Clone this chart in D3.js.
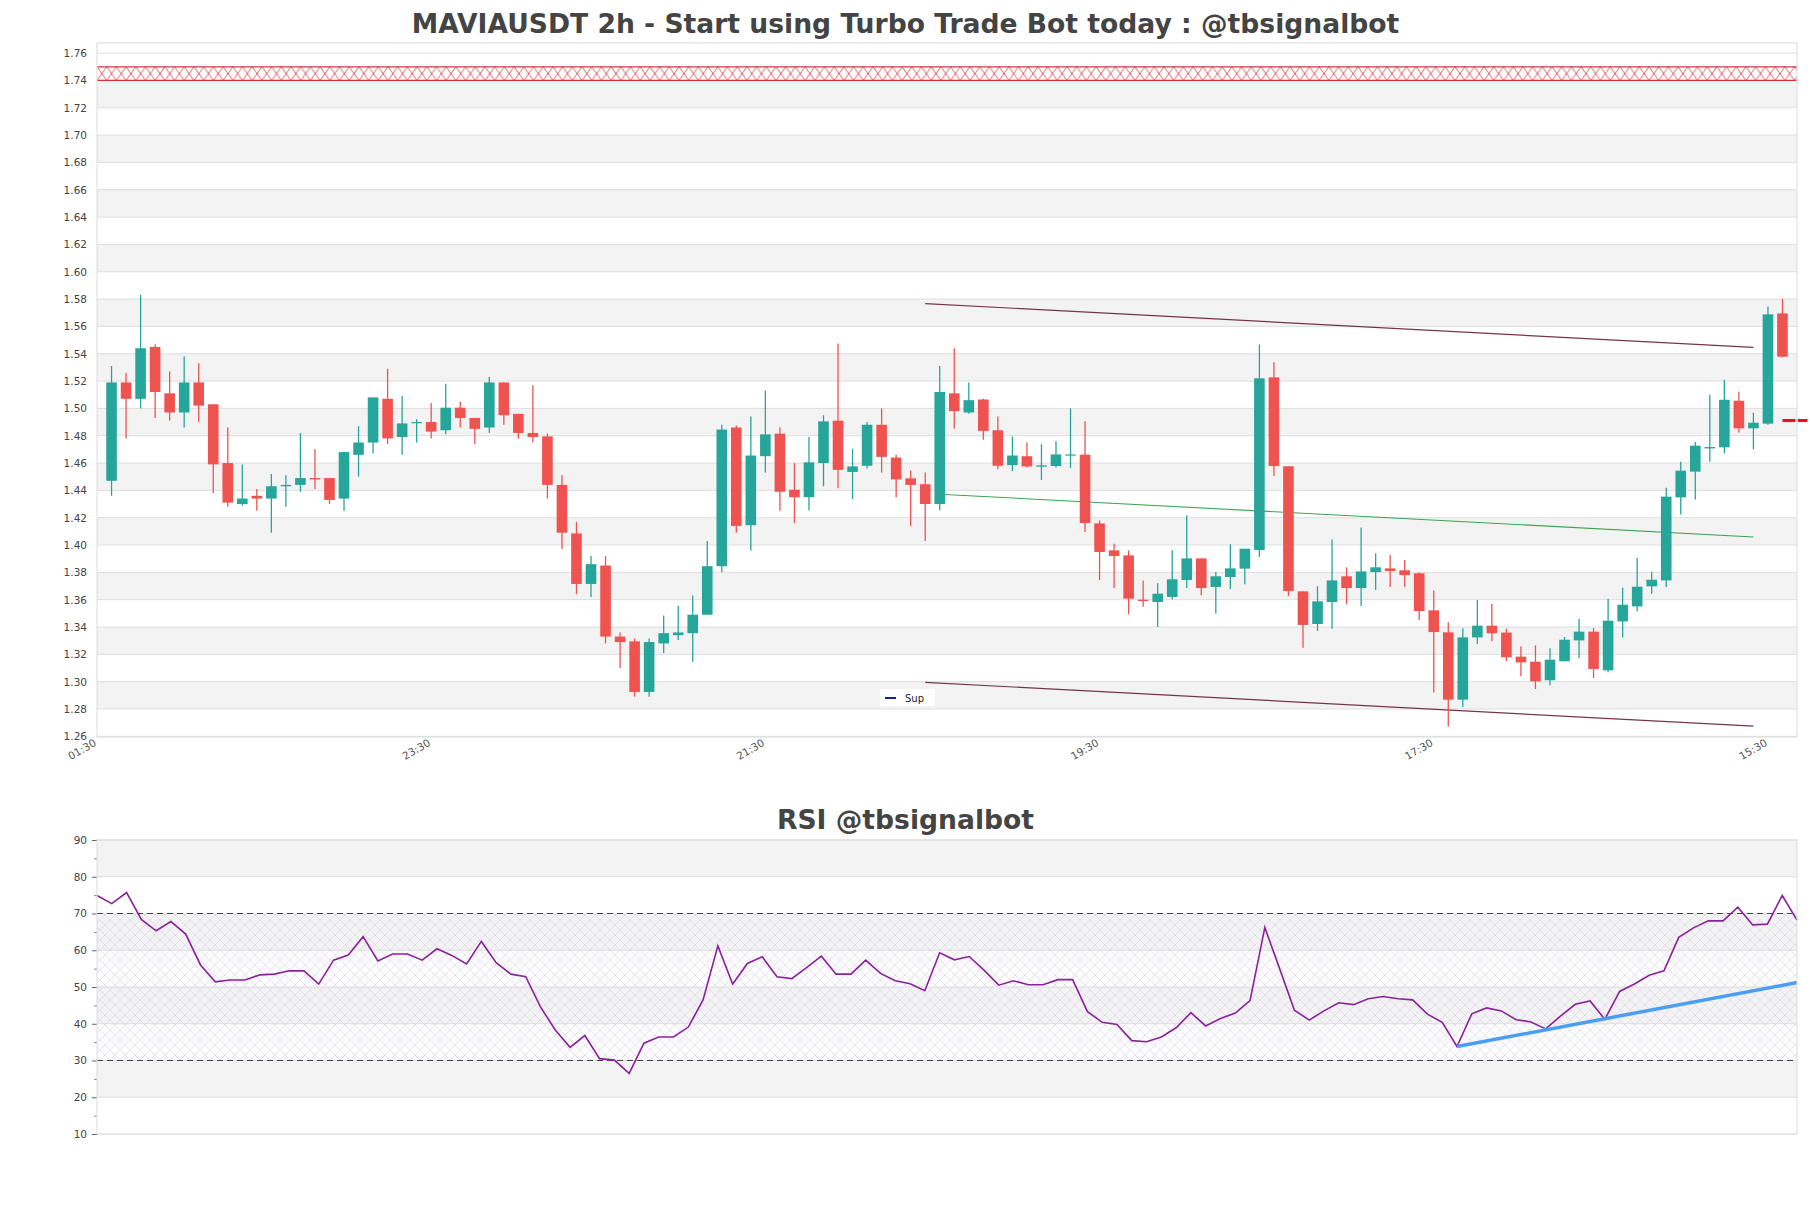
<!DOCTYPE html>
<html>
<head>
<meta charset="utf-8">
<script src="https://cdn.jsdelivr.net/npm/d3@7"></script>
<style>
  body { margin: 0; background: #fff; }
  text { font-family: "DejaVu Sans", sans-serif; }
</style>
</head>
<body>
<svg id="chart"></svg>
<script>
const W = 1811, H = 1208;

// ---- data ----
const tickIdx = [0, 23, 46, 69, 92, 115];
const tickLabels = ["01:30", "23:30", "21:30", "19:30", "17:30", "15:30"];

const open = [1.447,1.519,1.507,1.545,1.511,1.497,1.519,1.503,1.460,1.430,1.436,1.434,1.443,1.444,1.449,1.449,1.434,1.466,1.475,1.507,
  1.479,1.4895,1.490,1.484,1.5005,1.493,1.486,1.519,1.496,1.482,1.4795,1.444,1.4085,1.3715,1.385,1.333,1.3295,1.2925,1.328,1.334,
  1.3355,1.349,1.3845,1.486,1.4145,1.465,1.4815,1.4405,1.435,1.460,1.491,1.4535,1.458,1.488,1.464,1.4488,1.4445,1.430,1.511,1.497,
  1.5065,1.484,1.4585,1.465,1.4573,1.4578,1.4656,1.4661,1.4158,1.3961,1.3924,1.360,1.3583,1.362,1.3744,1.3902,1.3693,1.3766,1.3827,1.3963,
  1.5227,1.4576,1.3661,1.3422,1.3583,1.3771,1.3685,1.3802,1.3829,1.3815,1.3793,1.3522,1.3361,1.2868,1.3324,1.341,1.3359,1.3183,1.3146,1.301,
  1.3149,1.3302,1.3366,1.3083,1.3441,1.3551,1.3698,1.3741,1.4349,1.4537,1.4707,1.4715,1.5056,1.4854,1.4888,1.5695];
const high = [1.531,1.526,1.583,1.547,1.527,1.538,1.533,1.503,1.486,1.459,1.441,1.452,1.451,1.482,1.470,1.449,1.468,1.487,1.508,1.529,
  1.509,1.492,1.504,1.518,1.505,1.493,1.523,1.519,1.496,1.517,1.4815,1.451,1.417,1.392,1.392,1.336,1.3315,1.3315,1.3485,1.3555,
  1.363,1.403,1.488,1.4875,1.494,1.513,1.486,1.460,1.479,1.495,1.5475,1.4705,1.490,1.500,1.466,1.4546,1.453,1.531,1.544,1.519,
  1.507,1.494,1.4795,1.475,1.4737,1.476,1.500,1.4905,1.418,1.401,1.3961,1.3741,1.372,1.3961,1.4217,1.3902,1.3802,1.4005,1.3973,1.5468,
  1.5337,1.4576,1.3661,1.3698,1.4041,1.3837,1.4129,1.3939,1.3929,1.389,1.3798,1.3668,1.3434,1.339,1.3598,1.3571,1.3388,1.3259,1.3266,1.3244,
  1.3327,1.3461,1.3393,1.3607,1.3688,1.3907,1.3805,1.442,1.461,1.4754,1.51,1.521,1.5122,1.4968,1.5746,1.5802];
const low = [1.436,1.478,1.500,1.493,1.491,1.486,1.490,1.438,1.428,1.429,1.425,1.409,1.428,1.439,1.441,1.430,1.425,1.450,1.467,1.474,
  1.466,1.475,1.478,1.481,1.486,1.474,1.482,1.488,1.478,1.475,1.434,1.397,1.364,1.362,1.328,1.310,1.289,1.289,1.321,1.3305,
  1.3145,1.349,1.380,1.409,1.396,1.453,1.425,1.416,1.4255,1.443,1.4415,1.4335,1.456,1.453,1.435,1.414,1.403,1.4255,1.485,1.496,
  1.477,1.4555,1.454,1.4568,1.4476,1.4568,1.4566,1.4095,1.3744,1.3685,1.3493,1.3549,1.340,1.3602,1.3685,1.3632,1.3498,1.3678,1.3712,1.3912,
  1.4505,1.3627,1.3249,1.3371,1.3388,1.3566,1.3554,1.3671,1.3693,1.3693,1.3451,1.292,1.2671,1.2815,1.3276,1.3295,1.3149,1.3039,1.2946,1.2973,
  1.3149,1.3171,1.3027,1.3068,1.3324,1.3515,1.3644,1.3693,1.4224,1.4334,1.461,1.4671,1.4822,1.47,1.488,1.5373];
const close = [1.519,1.507,1.544,1.512,1.497,1.519,1.502,1.459,1.431,1.434,1.434,1.443,1.444,1.449,1.448,1.433,1.468,1.475,1.508,1.478,
  1.489,1.490,1.483,1.5005,1.493,1.485,1.519,1.495,1.482,1.479,1.444,1.409,1.3715,1.386,1.333,1.329,1.2925,1.329,1.3355,1.336,
  1.349,1.3845,1.4845,1.414,1.4655,1.481,1.439,1.435,1.4605,1.4905,1.455,1.4575,1.488,1.4645,1.448,1.444,1.430,1.512,1.498,1.506,
  1.4835,1.458,1.4655,1.4575,1.4583,1.4663,1.4663,1.4161,1.3949,1.392,1.3607,1.359,1.3644,1.3749,1.3902,1.3685,1.3771,1.3829,1.3973,1.522,
  1.4578,1.3663,1.3415,1.3588,1.3741,1.3685,1.3807,1.3837,1.381,1.378,1.3517,1.3363,1.2868,1.3324,1.341,1.3354,1.3178,1.3141,1.3002,1.3161,
  1.3307,1.3366,1.3093,1.3446,1.3563,1.3695,1.3746,1.4354,1.4544,1.4727,1.4717,1.5063,1.4854,1.4895,1.5688,1.5378];

const rsi = [74.9,72.7,75.7,68.4,65.3,67.8,64.4,56.0,51.4,51.9,51.9,53.3,53.5,54.4,54.4,50.8,57.3,58.7,63.7,57.1,
  59.0,59.0,57.3,60.4,58.6,56.3,62.4,56.6,53.5,52.8,44.6,38.3,33.6,36.8,30.5,30.1,26.5,34.7,36.4,36.4,
  39.1,46.5,61.2,50.8,56.4,58.2,52.8,52.3,55.3,58.4,53.5,53.5,57.3,53.7,51.7,50.9,49.0,59.3,57.4,58.3,
  54.6,50.5,51.7,50.6,50.6,52.0,52.0,43.3,40.4,39.8,35.4,35.1,36.4,38.9,43.0,39.4,41.4,42.9,46.3,66.2,
  55.0,43.7,41.0,43.5,45.7,45.2,46.8,47.4,46.8,46.5,42.6,40.4,33.8,42.7,44.3,43.5,41.1,40.5,38.6,42.1,
  45.3,46.2,41.2,48.8,50.8,53.2,54.4,63.5,66.1,68.0,68.0,71.7,66.9,67.1,74.9,68.2];

// trend lines [index, price]
const upperLine = [[56, 1.5767], [113, 1.5446]];
const supLine = [[57, 1.4372], [113, 1.4059]];
const lowerLine = [[56, 1.2995], [113, 1.2674]];
const resistZone = [1.74, 1.75];
const lastMark = 1.4912;
const rsiTrend = [[92, 33.8], [115, 51.2]];

const candles = open.map((o, i) => ({ i: i, o: o, h: high[i], l: low[i], c: close[i] }));

// ---- layout ----
const svg = d3.select("#chart").attr("width", W).attr("height", H);
svg.append("rect").attr("width", W).attr("height", H).attr("fill", "#fff");

const pL = 97, pR = 1797, pT = 43, pB = 737;
const rT = 840, rB = 1134;

const x = d3.scaleLinear().domain([-1, 116]).range([pL, pR]);
const y = d3.scaleLinear().domain([1.2595, 1.7674]).range([pB, pT]);
const xr = d3.scaleLinear().domain([0, 115]).range([pL, pR]);
const yr = d3.scaleLinear().domain([10, 90]).range([rB, rT]);

const defs = svg.append("defs");

// red X hatch for the resistance zone
const zTop = y(resistZone[1]), zBot = y(resistZone[0]);
const zh = zBot - zTop, zw = 9.7;
const zp = defs.append("pattern").attr("id", "zoneHatch")
  .attr("patternUnits", "userSpaceOnUse")
  .attr("x", pL).attr("y", zTop)
  .attr("width", zw).attr("height", zh);
zp.append("path").attr("d", `M0,0L${zw},${zh}M${zw},0L0,${zh}`)
  .attr("stroke", "#d9333a").attr("stroke-width", 0.8).attr("fill", "none");

// crosshatch for rsi 30-70
const hp = defs.append("pattern").attr("id", "rsiHatch")
  .attr("patternUnits", "userSpaceOnUse")
  .attr("width", 10).attr("height", 10);
hp.append("path").attr("d", "M0,0L10,10M10,0L0,10")
  .attr("stroke", "#d6cfdb").attr("stroke-width", 0.5).attr("fill", "none");

// ---- titles ----
svg.append("text").attr("x", W / 2).attr("y", 33).attr("text-anchor", "middle")
  .attr("font-size", 26.6).attr("font-weight", "bold").attr("fill", "#444")
  .text("MAVIAUSDT 2h - Start using Turbo Trade Bot today : @tbsignalbot");
svg.append("text").attr("x", W / 2).attr("y", 829).attr("text-anchor", "middle")
  .attr("font-size", 26.6).attr("font-weight", "bold").attr("fill", "#444")
  .text("RSI @tbsignalbot");

// ---- main panel ----
const main = svg.append("g");

const priceTicks = d3.range(0, 26).map(k => +(1.26 + k * 0.02).toFixed(2));
const bandLows = priceTicks.filter((p, k) => k >= 1 && k % 2 === 1 && p < 1.74);

main.selectAll(".band").data(bandLows).enter().append("rect")
  .attr("x", pL).attr("width", pR - pL)
  .attr("y", d => y(d + 0.02)).attr("height", d => y(d) - y(d + 0.02))
  .attr("fill", "#f3f3f3");

main.selectAll(".grid").data(priceTicks).enter().append("line")
  .attr("x1", pL).attr("x2", pR)
  .attr("y1", d => y(d)).attr("y2", d => y(d))
  .attr("stroke", "#dedede").attr("stroke-width", 1);

// resistance zone
main.append("rect").attr("x", pL).attr("width", pR - pL)
  .attr("y", zTop).attr("height", zh).attr("fill", "url(#zoneHatch)");
[zTop, zBot].forEach(v => main.append("line")
  .attr("x1", pL).attr("x2", pR).attr("y1", v).attr("y2", v)
  .attr("stroke", "#d9333a").attr("stroke-width", 1.2));

const yAxis = d3.axisLeft(y).tickValues(priceTicks).tickFormat(d3.format(".2f"))
  .tickSize(0).tickPadding(10);
main.append("g").attr("transform", `translate(${pL},0)`).call(yAxis)
  .call(g => g.select(".domain").remove())
  .call(g => g.selectAll("text").attr("font-size", 10.5).attr("fill", "#444")
    .attr("font-family", "DejaVu Sans"));

const xAxis = d3.axisBottom(x).tickValues(tickIdx).tickFormat((d, i) => tickLabels[i]).tickSize(0);
main.append("g").attr("transform", `translate(0,${pB})`).call(xAxis)
  .call(g => g.select(".domain").remove())
  .call(g => g.selectAll("text").attr("font-size", 10.5).attr("fill", "#555")
    .attr("font-family", "DejaVu Sans")
    .attr("text-anchor", "end").attr("x", 0).attr("y", 0).attr("dy", 0)
    .attr("transform", "translate(-15,8) rotate(-30)"));

// trend lines
const line = d3.line().x(d => x(d[0])).y(d => y(d[1]));
main.append("path").datum(upperLine).attr("d", line).attr("stroke", "#74344f").attr("stroke-width", 1.2).attr("fill", "none");
main.append("path").datum(lowerLine).attr("d", line).attr("stroke", "#74344f").attr("stroke-width", 1.2).attr("fill", "none");
main.append("path").datum(supLine).attr("d", line).attr("stroke", "#3aa552").attr("stroke-width", 1.1).attr("fill", "none");

// candles
const bw = (x(1) - x(0)) * 0.73;
const cg = main.selectAll(".candle").data(candles).enter().append("g");
cg.append("line")
  .attr("x1", d => x(d.i)).attr("x2", d => x(d.i))
  .attr("y1", d => y(d.h)).attr("y2", d => y(d.l))
  .attr("stroke", d => d.c >= d.o ? "#26a69a" : "#ef5350").attr("stroke-width", 1.3);
cg.append("rect")
  .attr("x", d => x(d.i) - bw / 2).attr("width", bw)
  .attr("y", d => y(Math.max(d.o, d.c)))
  .attr("height", d => Math.max(1.2, Math.abs(y(d.o) - y(d.c))))
  .attr("fill", d => d.c >= d.o ? "#26a69a" : "#ef5350");

// last price marker
main.append("line").attr("x1", x(115)).attr("x2", x(115) + 25)
  .attr("y1", y(lastMark)).attr("y2", y(lastMark))
  .attr("stroke", "#f01010").attr("stroke-width", 3).attr("stroke-dasharray", "13,2");

// legend
const lg = main.append("g").attr("transform", "translate(880,689)");
lg.append("rect").attr("width", 55).attr("height", 17).attr("fill", "#fff").attr("opacity", 0.85);
lg.append("line").attr("x1", 5).attr("x2", 16).attr("y1", 9).attr("y2", 9)
  .attr("stroke", "#1c1ca0").attr("stroke-width", 2);
lg.append("text").attr("x", 25).attr("y", 12.5).attr("font-size", 10).attr("fill", "#222").text("Sup");

main.append("rect").attr("x", pL).attr("y", pT).attr("width", pR - pL).attr("height", pB - pT)
  .attr("fill", "none").attr("stroke", "#dcdcdc");

// ---- RSI panel ----
const rp = svg.append("g");
const rsiTicks = d3.range(10, 91, 10);
const rsiBands = [20, 40, 60, 80];

rp.selectAll(".band").data(rsiBands).enter().append("rect")
  .attr("x", pL).attr("width", pR - pL)
  .attr("y", d => yr(d + 10)).attr("height", d => yr(d) - yr(d + 10))
  .attr("fill", "#f3f3f3");
rp.append("rect").attr("x", pL).attr("width", pR - pL)
  .attr("y", yr(70)).attr("height", yr(30) - yr(70)).attr("fill", "#f6eef8").attr("opacity", 0.2);
rp.append("rect").attr("x", pL).attr("width", pR - pL)
  .attr("y", yr(70)).attr("height", yr(30) - yr(70)).attr("fill", "url(#rsiHatch)");

rp.selectAll(".grid").data(rsiTicks).enter().append("line")
  .attr("x1", pL).attr("x2", pR)
  .attr("y1", d => yr(d)).attr("y2", d => yr(d))
  .attr("stroke", "#dedede");

rp.append("g").attr("transform", `translate(${pL},0)`)
  .call(d3.axisLeft(yr).tickValues(rsiTicks).tickSize(5).tickPadding(5))
  .call(g => g.select(".domain").remove())
  .call(g => g.selectAll("line").attr("stroke", "#666"))
  .call(g => g.selectAll("text").attr("font-size", 10.5).attr("fill", "#444")
    .attr("font-family", "DejaVu Sans"));
rp.append("g").attr("transform", `translate(${pL},0)`)
  .call(d3.axisLeft(yr).tickValues(d3.range(15, 90, 10)).tickSize(3).tickFormat(""))
  .call(g => g.select(".domain").remove())
  .call(g => g.selectAll("line").attr("stroke", "#888"));

[30, 70].forEach(v => rp.append("line")
  .attr("x1", pL).attr("x2", pR).attr("y1", yr(v)).attr("y2", yr(v))
  .attr("stroke", "#444").attr("stroke-width", 1.2).attr("stroke-dasharray", "6,4"));

const rline = d3.line().x((d, i) => xr(i)).y(d => yr(d));
rp.append("path").datum(rsi).attr("d", rline)
  .attr("stroke", "#8a229c").attr("stroke-width", 1.6).attr("fill", "none");

rp.append("path").datum(rsiTrend).attr("d", d3.line().x(d => xr(d[0])).y(d => yr(d[1])))
  .attr("stroke", "#4a9ff2").attr("stroke-width", 3.5).attr("fill", "none");

rp.append("rect").attr("x", pL).attr("y", rT).attr("width", pR - pL).attr("height", rB - rT)
  .attr("fill", "none").attr("stroke", "#dcdcdc");
</script>
</body>
</html>
